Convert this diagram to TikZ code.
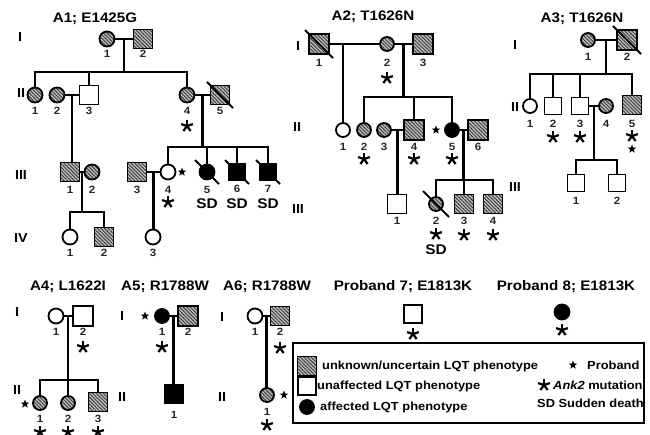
\documentclass[tikz,border=0pt]{standalone}
\usepackage{fontspec}
\setmainfont{Liberation Sans}[FakeStretch=1.1]
\usetikzlibrary{shapes.geometric,patterns.meta,calc}
\newcommand\fs[1]{\fontsize{#1}{#1}\selectfont}
\newcommand\lab[3]{\node[num] (#1l) at ([yshift=-#3pt]#1.center) {#2};}
\newcommand\mut[2]{\pic at ([yshift=-#2pt]#1.center) {mutstar};}
\newcommand\dec[2]{\draw[slash] ([shift={(-#2,-#2)}]#1.center) -- ([shift={(#2,#2)}]#1.center);}
\begin{document}
\begin{tikzpicture}[x=1pt,y=-1pt,
  ind/.style={draw,line width=1.8pt,inner sep=0pt},
  fem/.style={ind,circle,minimum size=15pt},
  mal/.style={ind,rectangle,minimum size=19pt},
  hatch/.style={preaction={fill=gray!50},pattern={Lines[angle=-45,distance=2.5pt,line width=0.9pt]},pattern color=black!80},
  aff/.style={fill=black},
  una/.style={fill=white},
  ln/.style={line width=2.2pt,line cap=rect},
  slash/.style={line width=1.8pt},
  num/.style={font=\bfseries\fs{10.5},text=black!85,inner sep=0pt},
  gen/.style={font=\bfseries\fs{13},inner sep=0pt},
  ttl/.style={font=\bfseries\fs{13.8},inner sep=0pt},
  sd/.style={font=\bfseries\fs{14},inner sep=0pt},
  leg/.style={font=\bfseries\fs{11.7},inner sep=0pt,anchor=west},
  pstar/.style={star,star points=5,star point ratio=2.4,fill=black,inner sep=0pt,minimum size=9pt},
  mutstar/.pic={\foreach \a in {-90,-18,54,126,198} \draw[line width=2.2pt] (0,0) -- (\a:6.2);}
]
\useasboundingbox (0,0) rectangle (650,435);

%%%%%%%%%%%%%%%% A1
\node[ttl] (a1t) at (95,19) {A1; E1425G};
\node[gen] (a1g1) at (20,37) {I};
\node[gen] (a1g2) at (21,93) {II};
\node[gen] (a1g3) at (21,175) {III};
\node[gen] (a1g4) at (21,238) {IV};

\node[fem,hatch] (a1i1) at (107,39) {};
\node[mal,hatch] (a1i2) at (143,39) {};
\node[fem,hatch] (a1ii1) at (35,95) {};
\node[fem,hatch] (a1ii2) at (57,95) {};
\node[mal,una] (a1ii3) at (89,95) {};
\node[fem,hatch] (a1ii4) at (187,95) {};
\node[mal,hatch] (a1ii5) at (220,95) {};
\node[mal,hatch] (a1iii1) at (70,172) {};
\node[fem,hatch] (a1iii2) at (92,172) {};
\node[mal,hatch] (a1iii3) at (137,172) {};
\node[fem,una] (a1iii4) at (168,172) {};
\node[fem,aff] (a1iii5) at (207,172) {};
\node[mal,aff,minimum size=17pt] (a1iii6) at (237,172) {};
\node[mal,aff,minimum size=17pt] (a1iii7) at (268,172) {};
\node[fem,una] (a1iv1) at (70,237) {};
\node[mal,hatch] (a1iv2) at (104,237) {};
\node[fem,una] (a1iv3) at (153,237) {};
\dec{a1ii5}{13}
\dec{a1iii5}{12}
\dec{a1iii6}{12}
\dec{a1iii7}{12}

\lab{a1i1}{1}{15} \lab{a1i2}{2}{15}
\lab{a1ii1}{1}{16} \lab{a1ii2}{2}{16} \lab{a1ii3}{3}{16} \lab{a1ii4}{4}{16} \lab{a1ii5}{5}{16}
\mut{a1ii4}{31}
\lab{a1iii1}{1}{18} \lab{a1iii2}{2}{18} \lab{a1iii3}{3}{18} \lab{a1iii4}{4}{18}
\lab{a1iii5}{5}{18} \lab{a1iii6}{6}{17} \lab{a1iii7}{7}{17}
\mut{a1iii4}{30}
\node[pstar] (a1p) at (182,172) {};
\node[sd] (a1sd5) at (207,204) {SD};
\node[sd] (a1sd6) at (237,204) {SD};
\node[sd] (a1sd7) at (268,204) {SD};
\lab{a1iv1}{1}{16} \lab{a1iv2}{2}{16} \lab{a1iv3}{3}{16}

\draw[ln] (a1i1) -- (a1i2);
\coordinate (a1m1) at ($(a1i1.east)!.5!(a1i2.west)$);
\coordinate (a1s1) at (0,72);
\draw[ln] (a1m1) -- (a1m1 |- a1s1);
\draw[ln] (a1ii1 |- a1s1) -- (a1ii4 |- a1s1);
\foreach \n in {a1ii1,a1ii3,a1ii4} \draw[ln] (\n) -- (\n |- a1s1);

\draw[ln] (a1ii2) -- (a1ii3);
\coordinate (a1m2) at ($(a1ii2.east)!.5!(a1ii3.west)$);
\draw[ln] (a1m2) -- (a1m2 |- a1iii1.north);

\draw[ln] (a1ii4) -- (a1ii5);
\coordinate (a1m3) at ($(a1ii4.east)!.5!(a1ii5.west)$);
\coordinate (a1s3) at (0,147);
\draw[ln] (a1m3) -- (a1m3 |- a1s3);
\draw[ln] (a1iii4 |- a1s3) -- (a1iii7 |- a1s3);
\foreach \n in {a1iii4,a1iii5,a1iii6,a1iii7} \draw[ln] (\n) -- (\n |- a1s3);

\draw[ln] (a1iii1) -- (a1iii2);
\coordinate (a1m4) at ($(a1iii1.east)!.5!(a1iii2.west)$);
\coordinate (a1s4) at (0,212);
\draw[ln] (a1m4) -- (a1m4 |- a1s4);
\draw[ln] (a1iv1 |- a1s4) -- (a1iv2 |- a1s4);
\foreach \n in {a1iv1,a1iv2} \draw[ln] (\n) -- (\n |- a1s4);

\draw[ln] (a1iii3) -- (a1iii4);
\coordinate (a1m5) at ($(a1iii3.east)!.5!(a1iii4.west)$);
\draw[ln] (a1m5) -- (a1m5 |- a1iv3.north);

%%%%%%%%%%%%%%%% A2
\node[ttl] (a2t) at (373,17) {A2; T1626N};
\node[gen] (a2g1) at (298,46) {I};
\node[gen] (a2g2) at (297,127) {II};
\node[gen] (a2g3) at (298,209) {III};

\node[mal,hatch,minimum size=20pt] (a2i1) at (319,44) {};
\node[fem,hatch,minimum size=14pt] (a2i2) at (387,44) {};
\node[mal,hatch,minimum size=20pt] (a2i3) at (423,44) {};
\node[fem,una,minimum size=14pt] (a2ii1) at (343,130) {};
\node[fem,hatch,minimum size=14pt] (a2ii2) at (364,130) {};
\node[fem,hatch,minimum size=14pt] (a2ii3) at (384,130) {};
\node[mal,hatch,minimum size=20pt] (a2ii4) at (414,130) {};
\node[fem,aff,minimum size=14pt] (a2ii5) at (452,130) {};
\node[mal,hatch,minimum size=20pt] (a2ii6) at (478,130) {};
\node[mal,una,minimum size=19pt] (a2iii1) at (397,204) {};
\node[fem,hatch,minimum size=14pt] (a2iii2) at (436,204) {};
\node[mal,hatch,minimum size=19pt] (a2iii3) at (464,204) {};
\node[mal,hatch,minimum size=19pt] (a2iii4) at (493,204) {};
\dec{a2i1}{14}
\dec{a2iii2}{13}

\lab{a2i1}{1}{19} \lab{a2i2}{2}{19} \lab{a2i3}{3}{19}
\mut{a2i2}{34}
\lab{a2ii1}{1}{17} \lab{a2ii2}{2}{17} \lab{a2ii3}{3}{17} \lab{a2ii4}{4}{17} \lab{a2ii5}{5}{17} \lab{a2ii6}{6}{17}
\mut{a2ii2}{29} \mut{a2ii4}{29} \mut{a2ii5}{29}
\node[pstar] (a2p) at (436,130) {};
\lab{a2iii1}{1}{17} \lab{a2iii2}{2}{17} \lab{a2iii3}{3}{17} \lab{a2iii4}{4}{17}
\mut{a2iii2}{30} \mut{a2iii3}{31} \mut{a2iii4}{31}
\node[sd] (a2sd) at (436,250) {SD};

\draw[ln] (a2i1) -- (a2i2);
\draw[ln] (a2ii1) -- (a2ii1 |- a2i1);
\draw[ln] (a2i2) -- (a2i3);
\coordinate (a2m2) at ($(a2i2.east)!.5!(a2i3.west)$);
\coordinate (a2s2) at (0,97);
\draw[ln] (a2m2) -- (a2m2 |- a2s2);
\draw[ln] (a2ii2 |- a2s2) -- (a2ii5 |- a2s2);
\foreach \n in {a2ii2,a2ii4,a2ii5} \draw[ln] (\n) -- (\n |- a2s2);

\draw[ln] (a2ii3) -- (a2ii4);
\coordinate (a2m3) at ($(a2ii3.east)!.5!(a2ii4.west)$);
\draw[ln] (a2m3) -- (a2m3 |- a2iii1.north);

\draw[ln] (a2ii5) -- (a2ii6);
\coordinate (a2m4) at ($(a2ii5.east)!.5!(a2ii6.west)$);
\coordinate (a2s4) at (0,180);
\draw[ln] (a2m4) -- (a2m4 |- a2s4);
\draw[ln] (a2iii2 |- a2s4) -- (a2iii4 |- a2s4);
\foreach \n in {a2iii2,a2iii3,a2iii4} \draw[ln] (\n) -- (\n |- a2s4);

%%%%%%%%%%%%%%%% A3
\node[ttl] (a3t) at (582,19) {A3; T1626N};
\node[gen] (a3g1) at (515,45) {I};
\node[gen] (a3g2) at (515,107) {II};
\node[gen] (a3g3) at (515,187) {III};

\node[fem,hatch,minimum size=14pt] (a3i1) at (588,40) {};
\node[mal,hatch,minimum size=20pt] (a3i2) at (627,40) {};
\node[fem,una,minimum size=14pt] (a3ii1) at (530,106) {};
\node[mal,una,minimum size=17pt] (a3ii2) at (553,106) {};
\node[mal,una,minimum size=17pt] (a3ii3) at (580,106) {};
\node[fem,hatch,minimum size=14pt] (a3ii4) at (606,106) {};
\node[mal,hatch,minimum size=19pt] (a3ii5) at (632,105) {};
\node[mal,una,minimum size=17pt] (a3iii1) at (576,183) {};
\node[mal,una,minimum size=17pt] (a3iii2) at (617,183) {};
\dec{a3i2}{14}

\lab{a3i1}{1}{17} \lab{a3i2}{2}{17}
\lab{a3ii1}{1}{18} \lab{a3ii2}{2}{18} \lab{a3ii3}{3}{18} \lab{a3ii4}{4}{18} \lab{a3ii5}{5}{19}
\mut{a3ii2}{31} \mut{a3ii3}{31} \mut{a3ii5}{31}
\node[pstar] (a3p) at (632,149) {};
\lab{a3iii1}{1}{18} \lab{a3iii2}{2}{18}

\draw[ln] (a3i1) -- (a3i2);
\coordinate (a3m1) at ($(a3i1.east)!.5!(a3i2.west)$);
\coordinate (a3s1) at (0,74);
\draw[ln] (a3m1) -- (a3m1 |- a3s1);
\draw[ln] (a3ii1 |- a3s1) -- (a3ii5 |- a3s1);
\foreach \n in {a3ii1,a3ii2,a3ii3,a3ii5} \draw[ln] (\n) -- (\n |- a3s1);

\draw[ln] (a3ii3) -- (a3ii4);
\coordinate (a3m2) at ($(a3ii3.east)!.5!(a3ii4.west)$);
\coordinate (a3s2) at (0,160);
\draw[ln] (a3m2) -- (a3m2 |- a3s2);
\draw[ln] (a3iii1 |- a3s2) -- (a3iii2 |- a3s2);
\foreach \n in {a3iii1,a3iii2} \draw[ln] (\n) -- (\n |- a3s2);

%%%%%%%%%%%%%%%% A4
\node[ttl] (a4t) at (68,287) {A4; L1622I};
\node[gen] (a4g1) at (17,312) {I};
\node[gen] (a4g2) at (17,390) {II};
\node[fem,una] (a4i1) at (56,316) {};
\node[mal,una,minimum size=20pt] (a4i2) at (83,316) {};
\node[fem,hatch,minimum size=14pt] (a4ii1) at (40,403) {};
\node[fem,hatch,minimum size=14pt] (a4ii2) at (68,403) {};
\node[mal,hatch,minimum size=19pt] (a4ii3) at (98,402) {};
\lab{a4i1}{1}{16} \lab{a4i2}{2}{16}
\mut{a4i2}{31}
\lab{a4ii1}{1}{16} \lab{a4ii2}{2}{16} \lab{a4ii3}{3}{17}
\mut{a4ii1}{29} \mut{a4ii2}{29} \mut{a4ii3}{30}
\node[pstar] (a4p) at (25,404) {};
\draw[ln] (a4i1) -- (a4i2);
\coordinate (a4m1) at ($(a4i1.east)!.5!(a4i2.west)$);
\coordinate (a4s1) at (0,380);
\draw[ln] (a4m1) -- (a4m1 |- a4s1);
\draw[ln] (a4ii1 |- a4s1) -- (a4ii3 |- a4s1);
\foreach \n in {a4ii1,a4ii2,a4ii3} \draw[ln] (\n) -- (\n |- a4s1);

%%%%%%%%%%%%%%%% A5
\node[ttl] (a5t) at (165,287) {A5; R1788W};
\node[gen] (a5g1) at (122,316) {I};
\node[gen] (a5g2) at (122,397) {II};
\node[fem,aff,minimum size=14pt] (a5i1) at (162,316) {};
\node[mal,hatch,minimum size=20pt] (a5i2) at (188,316) {};
\node[mal,aff,minimum size=18pt] (a5ii1) at (174,394) {};
\lab{a5i1}{1}{16} \lab{a5i2}{2}{16}
\mut{a5i1}{31}
\lab{a5ii1}{1}{21}
\node[pstar] (a5p) at (145,316) {};
\draw[ln] (a5i1) -- (a5i2);
\coordinate (a5m1) at ($(a5i1.east)!.5!(a5i2.west)$);
\draw[ln] (a5m1) -- (a5m1 |- a5ii1.north);

%%%%%%%%%%%%%%%% A6
\node[ttl] (a6t) at (267,287) {A6; R1788W};
\node[gen] (a6g1) at (222,317) {I};
\node[gen] (a6g2) at (222,397) {II};
\node[fem,una] (a6i1) at (255,316) {};
\node[mal,hatch,minimum size=19pt] (a6i2) at (280,316) {};
\node[fem,hatch,minimum size=14pt] (a6ii1) at (267,395) {};
\lab{a6i1}{1}{16} \lab{a6i2}{2}{16}
\mut{a6i2}{32}
\lab{a6ii1}{1}{17}
\mut{a6ii1}{30}
\node[pstar] (a6p) at (284,395) {};
\draw[ln] (a6i1) -- (a6i2);
\coordinate (a6m1) at ($(a6i1.east)!.5!(a6i2.west)$);
\draw[ln] (a6m1) -- (a6m1 |- a6ii1.north);

%%%%%%%%%%%%%%%% Probands 7, 8
\node[ttl] (p7t) at (403,287) {Proband 7; E1813K};
\node[mal,una,minimum size=18pt] (p7) at (413,314) {};
\mut{p7}{20}
\node[ttl] (p8t) at (566,287) {Proband 8; E1813K};
\node[fem,aff,minimum size=15pt] (p8) at (562,312) {};
\mut{p8}{18}

%%%%%%%%%%%%%%%% Legend
\node[draw,line width=1.8pt,minimum width=351pt,minimum height=80pt,inner sep=0pt] (leg) at (468.5,383) {};
\node[mal,hatch,minimum size=19pt] (lh) at (307,366) {};
\node[mal,una,minimum size=18pt] (lu) at (307,386) {};
\node[fem,aff,minimum size=14pt] (la) at (307,407) {};
\node[leg] (lht) at (322,366) {unknown/uncertain LQT phenotype};
\node[leg] (lut) at (317,386) {unaffected LQT phenotype};
\node[leg] (lat) at (320,407) {affected LQT phenotype};
\node[pstar] (lp) at (573,365) {};
\node[leg] (lpt) at (587,365) {Proband};
\pic at (544,385) {mutstar};
\node[leg] (lmt) at (553,385) {\textit{Ank2} mutation};
\node[leg] (lsd) at (537,403) {SD Sudden death};
\end{tikzpicture}
\end{document}
